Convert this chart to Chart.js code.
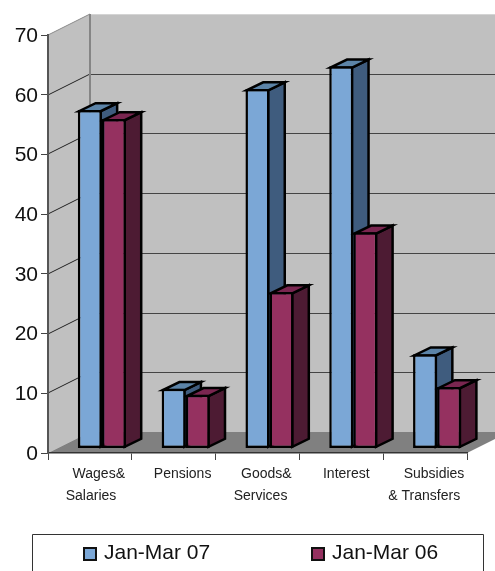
<!DOCTYPE html>
<html>
<head>
<meta charset="utf-8">
<style>html,body{margin:0;padding:0;background:#fff}canvas{display:block}</style>
<script src="https://cdn.jsdelivr.net/npm/chart.js@4"></script>
</head>
<body>
<canvas id="c" width="495" height="571"></canvas>
<script>
const categories = [["Wages&","Salaries"],["Pensions"],["Goods&","Services"],["Interest"],["Subsidies","& Transfers"]];
const janMar07 = [56.7, 10.0, 60.2, 64.0, 15.8];
const janMar06 = [55.2, 9.0, 26.2, 36.2, 10.3];
const seriesNames = ["Jan-Mar 07","Jan-Mar 06"];
const yTicks = [0,10,20,30,40,50,60,70];

const palette = [
  {front:"#7ba7d6", top:"#5c84a8", side:"#3f5c7e"},
  {front:"#953160", top:"#7a2650", side:"#4d1b33"}
];
const WALL = {dx:42, dy:-21};
const BAR = {dx:12, dy:-4.5, ddx:16.5, ddy:-8, inset:1.25, lw:2.5};
const FONT = "'Liberation Sans', Arial, sans-serif";
// spaces nudging each label line off the tick centre, as in the original: [leading, trailing]
const lineNudge = {"Wages&":[2,0],"Salaries":[0,2],"Pensions":[2,0],"Goods&":[2,0],"Services":[0,1],"Subsidies":[2,0],"& Transfers":[0,3]};

function poly(ctx, pts, fill, stroke, lw){
  ctx.beginPath();
  pts.forEach((p,i)=> i?ctx.lineTo(p[0],p[1]):ctx.moveTo(p[0],p[1]));
  ctx.closePath();
  if(fill){ctx.fillStyle=fill;ctx.fill();}
  if(stroke){ctx.strokeStyle=stroke;ctx.lineWidth=lw||1;ctx.lineJoin="miter";ctx.stroke();}
}

const scene = {
  id:"scene",
  beforeDraw(chart){
    const {ctx,chartArea:a,scales:{y}} = chart;
    const W = chart.width;
    const x0=a.left, yT=y.getPixelForValue(70), yB=y.getPixelForValue(0);
    ctx.save();
    poly(ctx,[[x0,yB],[x0+WALL.dx,yB+WALL.dy],[x0+WALL.dx,yT+WALL.dy],[x0,yT]],"#c0c0c0");
    ctx.fillStyle="#c0c0c0";
    ctx.fillRect(x0+WALL.dx,yT+WALL.dy,W-x0-WALL.dx,yB-yT);
    poly(ctx,[[x0,yB],[x0+WALL.dx,yB+WALL.dy],[a.right+WALL.dx,yB+WALL.dy],[a.right,yB]],"#808080");
    yTicks.forEach(v=>{
      if(v===0) return;
      const py=Math.round(y.getPixelForValue(v));
      const top=v===70;
      ctx.strokeStyle=top?"#8a8a8a":"#222";
      ctx.lineWidth=1;
      ctx.beginPath();ctx.moveTo(x0,py);ctx.lineTo(x0+WALL.dx,py+WALL.dy);ctx.stroke();
      ctx.strokeStyle=top?"#d4d4d4":"#444";
      ctx.beginPath();ctx.moveTo(x0+WALL.dx,py+WALL.dy+.5);ctx.lineTo(W,py+WALL.dy+.5);ctx.stroke();
    });
    ctx.strokeStyle="#858585";ctx.lineWidth=2;
    ctx.beginPath();ctx.moveTo(x0+WALL.dx,yT+WALL.dy);ctx.lineTo(x0+WALL.dx,yB+WALL.dy);ctx.stroke();
    // legend
    ctx.strokeStyle="#333";ctx.lineWidth=1;
    ctx.beginPath();ctx.moveTo(32.5,chart.height+2);ctx.lineTo(32.5,534.5);ctx.lineTo(483.5,534.5);ctx.lineTo(483.5,chart.height+2);ctx.stroke();
    ctx.font="21px "+FONT;ctx.textBaseline="middle";ctx.textAlign="left";
    [[84,104],[312,332]].forEach((p,i)=>{
      ctx.fillStyle=palette[i].front;ctx.strokeStyle="#111";ctx.lineWidth=2;
      ctx.fillRect(p[0],548,12,12);ctx.strokeRect(p[0],548,12,12);
      ctx.fillStyle="#111";ctx.fillText(seriesNames[i],p[1],553);
    });
    ctx.restore();
  },
  beforeDatasetsDraw(chart){
    const ctx=chart.ctx, k=BAR.inset;
    ctx.save();
    ctx.translate(BAR.dx,BAR.dy);
    [0,1].forEach(i=>{
      chart.getDatasetMeta(i).data.forEach(el=>{
        const l=el.x-el.width/2, r=el.x+el.width/2, t=el.y, b=el.base;
        poly(ctx,[[r-k,t+k],[r-k,b-k],[r-k+BAR.ddx,b-k+BAR.ddy],[r-k+BAR.ddx,t+k+BAR.ddy]],palette[i].side,"#000",BAR.lw);
        poly(ctx,[[l+k,t+k],[r-k,t+k],[r-k+BAR.ddx,t+k+BAR.ddy],[l+k+BAR.ddx,t+k+BAR.ddy]],palette[i].top,"#000",BAR.lw);
      });
    });
  },
  afterDatasetsDraw(chart){ chart.ctx.restore(); }
};

new Chart(document.getElementById("c"),{
  type:"bar",
  data:{
    labels:categories,
    datasets:[
      {label:seriesNames[0],data:janMar07,backgroundColor:palette[0].front,borderColor:"#000",borderWidth:BAR.lw,borderSkipped:false,categoryPercentage:.574,barPercentage:1,clip:false},
      {label:seriesNames[1],data:janMar06,backgroundColor:palette[1].front,borderColor:"#000",borderWidth:BAR.lw,borderSkipped:false,categoryPercentage:.574,barPercentage:1,clip:false}
    ]
  },
  plugins:[scene],
  options:{
    responsive:false,animation:false,
    layout:{padding:{top:35,right:28,left:0,bottom:0}},
    plugins:{legend:{display:false},tooltip:{enabled:false},title:{display:false}},
    scales:{
      x:{
        afterFit(s){s.height=118;},
        grid:{drawOnChartArea:false,color:"#444",tickLength:7,offset:true},
        border:{color:"#333",width:1.5},
        ticks:{autoSkip:false,maxRotation:0,minRotation:0,padding:3,labelOffset:5,color:"#222",
          font:{family:FONT,size:14,lineHeight:1.57},
          callback(v,i){
            return categories[i].map(line=>{
              const n=lineNudge[line]||[0,0];
              return " ".repeat(n[0])+line+" ".repeat(n[1]);
            });
          }}
      },
      y:{
        min:0,max:70,
        afterFit(s){s.width=48;},
        afterBuildTicks(s){s.ticks=yTicks.map(v=>({value:v}));},
        grid:{drawOnChartArea:false,color:"#444",tickLength:7},
        border:{color:"#555",width:2},
        ticks:{padding:3,labelOffset:1,color:"#111",font:{family:FONT,size:21}}
      }
    }
  }
});
</script>
</body>
</html>
